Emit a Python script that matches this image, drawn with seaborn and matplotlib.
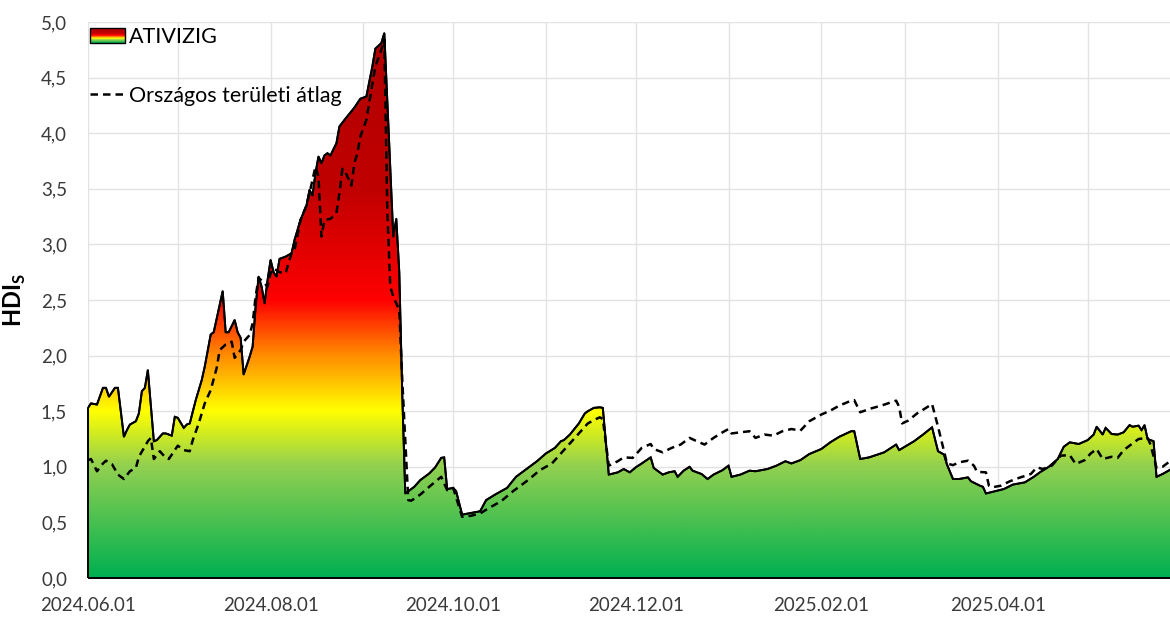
import numpy as np
import pandas as pd
import matplotlib
matplotlib.use("Agg")
import matplotlib.pyplot as plt
import matplotlib.dates as mdates
from matplotlib.colors import LinearSegmentedColormap
from matplotlib.patches import Polygon, Rectangle
from matplotlib.lines import Line2D
from matplotlib.legend_handler import HandlerBase
from matplotlib.ticker import FuncFormatter, FixedLocator
import seaborn as sns

# ---------------- data ----------------
START = "2024-06-01"
END_DAY = 361.5

ativizig_days = [0, 1, 3, 5, 6, 7, 9, 10, 12, 13, 14, 16, 17, 18, 19, 20, 22, 23, 25, 26, 28, 29, 30,
                 32, 33, 34, 36, 38, 39, 41, 42, 45, 46, 47, 49, 50, 51, 52, 54, 55, 56, 57, 58, 59,
                 60, 61, 62, 63, 64, 66, 68, 69, 71, 73, 74, 75, 76, 77, 78, 79, 80, 81, 83, 84, 86,
                 89, 91, 93, 95, 96, 98, 99, 102, 103, 104, 105, 106, 109, 111, 114, 116, 118, 119,
                 120, 122, 123, 125, 127, 131, 133, 136, 140, 143, 147, 150, 153, 156, 158, 159, 161,
                 164, 166, 167, 169, 171, 172, 174, 177, 179, 181, 183, 185, 188, 189, 192, 194, 196,
                 197, 199, 201, 202, 205, 207, 209, 212, 214, 215, 218, 221, 223, 227, 230, 233, 235,
                 238, 241, 245, 248, 251, 255, 256, 258, 261, 266, 270, 271, 276, 279, 282, 284, 286,
                 287, 289, 291, 294, 295, 298, 299, 300, 303, 306, 309, 313, 316, 318, 321, 324, 326,
                 328, 331, 334, 336, 337, 339, 340, 342, 344, 346, 348, 349, 351, 352, 353, 354, 356,
                 357, 359, 360, 362]
ativizig_values = [1.53, 1.57, 1.56, 1.71, 1.71, 1.63, 1.71, 1.71, 1.27, 1.33, 1.38, 1.41, 1.48, 1.68,
                   1.71, 1.87, 1.23, 1.24, 1.30, 1.30, 1.28, 1.45, 1.44,
                   1.35, 1.38, 1.39, 1.60, 1.78, 1.90, 2.19, 2.21, 2.58, 2.21, 2.21, 2.32, 2.21, 2.16,
                   1.83, 1.99, 2.08, 2.44, 2.71, 2.62, 2.47,
                   2.68, 2.86, 2.75, 2.71, 2.87, 2.89, 2.92, 3.04, 3.22, 3.35, 3.49, 3.44, 3.64, 3.79,
                   3.73, 3.80, 3.82, 3.80, 3.91, 4.06, 4.13,
                   4.23, 4.31, 4.33, 4.60, 4.76, 4.81, 4.90, 3.07, 3.23, 2.75, 1.65, 0.76, 0.82, 0.88,
                   0.94, 0.995, 1.08, 1.085,
                   0.80, 0.81, 0.78, 0.57, 0.58, 0.60, 0.70, 0.75, 0.81, 0.91, 0.99, 1.05, 1.12, 1.17,
                   1.23, 1.24, 1.29,
                   1.39, 1.48, 1.50, 1.53, 1.535, 1.53, 0.93, 0.95, 0.98, 0.95, 0.995, 1.03, 1.085,
                   0.99, 0.93, 0.95, 0.96,
                   0.91, 0.965, 1.00, 0.965, 0.935, 0.89, 0.93, 0.97, 1.01, 0.91, 0.93, 0.965, 0.96,
                   0.98, 1.01, 1.05, 1.03,
                   1.06, 1.115, 1.16, 1.22, 1.27, 1.32, 1.32, 1.07, 1.085, 1.13, 1.20, 1.15, 1.23,
                   1.29, 1.355, 1.14, 1.11,
                   1.02, 0.89, 0.89, 0.905, 0.87, 0.83, 0.82, 0.76, 0.78, 0.80, 0.84, 0.86, 0.91,
                   0.95, 1.00, 1.07, 1.18,
                   1.22, 1.205, 1.24, 1.29, 1.36, 1.29, 1.35, 1.295, 1.29, 1.31, 1.375, 1.36, 1.37,
                   1.33, 1.375, 1.25, 1.23,
                   0.91, 0.935, 0.95, 0.98]

national_days = [0, 1, 3, 5, 6, 8, 10, 12, 14, 16, 17, 20, 21, 22, 24, 26, 27, 29, 30, 32, 34, 35, 37,
                 39, 41, 43, 44, 46, 48, 49, 51, 52, 54, 55, 56, 57, 59, 60, 61, 62, 64, 66, 68, 69,
                 71, 73, 74, 76, 77, 78, 79, 81, 83, 84, 85, 86, 88, 89, 90, 91, 93, 94, 96, 98, 99,
                 100, 101, 102, 103, 104, 105, 107, 108, 111, 114, 118, 120, 122, 125, 128, 131, 134,
                 138, 142, 147, 151, 155, 160, 164, 167, 169, 171, 172, 174, 177, 179, 182, 185, 188,
                 189, 192, 195, 198, 201, 203, 206, 209, 212, 214, 215, 218, 221, 223, 226, 229, 232,
                 235, 238, 241, 245, 248, 251, 255, 256, 258, 261, 265, 270, 271, 272, 274, 277, 280,
                 282, 284, 286, 287, 289, 291, 294, 296, 297, 300, 301, 302, 305, 308, 311, 315, 317,
                 319, 322, 325, 328, 330, 333, 335, 337, 339, 342, 344, 346, 349, 351, 354, 355, 357,
                 359, 362]
national_values = [1.06, 1.07, 0.96, 1.03, 1.055, 1.025, 0.93, 0.89, 0.96, 0.99, 1.09, 1.23, 1.26,
                   1.07, 1.14, 1.08, 1.07, 1.15, 1.19, 1.15, 1.14, 1.24, 1.39,
                   1.57, 1.69, 1.89, 2.05, 2.10, 2.125, 1.98, 2.05, 2.125, 2.185, 2.29, 2.53, 2.70,
                   2.65, 2.62, 2.74, 2.785, 2.75, 2.74, 2.92, 2.95,
                   3.22, 3.35, 3.46, 3.70, 3.61, 3.07, 3.22, 3.23, 3.28, 3.46, 3.68, 3.65, 3.53, 3.73,
                   3.82, 3.97, 4.12, 4.28, 4.60, 4.75, 4.84,
                   3.30, 2.62, 2.53, 2.47, 2.41, 1.78, 0.70, 0.695, 0.75, 0.82, 0.91, 0.79, 0.81, 0.55,
                   0.56, 0.58, 0.63,
                   0.69, 0.78, 0.88, 0.97, 1.03, 1.18, 1.30, 1.39, 1.42, 1.445, 1.43, 1.01, 1.05,
                   1.085, 1.08, 1.17, 1.205,
                   1.16, 1.13, 1.17, 1.20, 1.26, 1.235, 1.20, 1.26, 1.31, 1.34, 1.30, 1.31, 1.32,
                   1.26, 1.29, 1.28, 1.32,
                   1.34, 1.325, 1.41, 1.47, 1.505, 1.55, 1.595, 1.60, 1.49, 1.52, 1.55, 1.595, 1.54,
                   1.39, 1.415, 1.48, 1.53,
                   1.565, 1.36, 1.14, 1.03, 1.015, 1.04, 1.055, 1.01, 0.955, 0.95, 0.83, 0.815, 0.83,
                   0.87, 0.90, 0.935, 0.995,
                   0.98, 1.01, 1.10, 1.105, 1.025, 1.06, 1.12, 1.16, 1.07, 1.09, 1.08, 1.15, 1.21,
                   1.25, 1.26, 1.20, 0.99,
                   1.00, 1.06]

series_names = ["ATIVIZIG", "Országos területi átlag"]
y_axis_label = r"$\mathbf{HDI}_{\mathbf{S}}$"
y_ticks = [0.0, 0.5, 1.0, 1.5, 2.0, 2.5, 3.0, 3.5, 4.0, 4.5, 5.0]
x_tick_labels = ["2024.06.01", "2024.08.01", "2024.10.01", "2024.12.01", "2025.02.01", "2025.04.01"]

# gradient stops (value, colour) for the area fill
grad_stops = [(0.0, "#00B050"), (1.0, "#92D050"), (1.5, "#FFFF00"), (2.0, "#FF8C00"),
              (2.5, "#FF0000"), (3.5, "#C00000"), (5.0, "#B00000")]

# ---------------- style ----------------
sns.set_theme(style="white")
plt.rcParams["font.family"] = ["Lato", "DejaVu Sans"]
plt.rcParams["mathtext.fontset"] = "custom"
plt.rcParams["mathtext.rm"] = "Lato"
plt.rcParams["mathtext.bf"] = "Lato:bold"
TXT = "#3a3a3a"
GRID = "#E3E3E3"
DASH = (0, (3, 2))

base = pd.Timestamp(START)
ati_dates = base + pd.to_timedelta(ativizig_days, unit="D")
nat_dates = base + pd.to_timedelta(national_days, unit="D")
df_a = pd.DataFrame({"date": ati_dates, "HDI": ativizig_values})
df_n = pd.DataFrame({"date": nat_dates, "HDI": national_values})

vmax = 5.0
cmap = LinearSegmentedColormap.from_list(
    "hdi", [(v / vmax, c) for v, c in grad_stops])

fig = plt.figure(figsize=(11.7, 6.17), dpi=100)
ax = fig.add_axes([88 / 1170, 39 / 617, 1082 / 1170, 556 / 617])

x0 = mdates.date2num(base)
x1 = mdates.date2num(base + pd.Timedelta(days=END_DAY))

# gradient area
xa = mdates.date2num(ati_dates)
verts = [(xa[0], 0)] + list(zip(xa, ativizig_values)) + [(xa[-1], 0)]
poly = Polygon(verts, closed=True, facecolor="none", edgecolor="black", lw=1.4, zorder=3,
               clip_on=False)
ax.add_patch(poly)
grad = np.linspace(0, vmax, 600).reshape(-1, 1)
im = ax.imshow(grad, extent=[x0, mdates.date2num(ati_dates[-1]), 0, vmax], origin="lower",
               aspect="auto", cmap=cmap, vmin=0, vmax=vmax, zorder=2, interpolation="bilinear")
im.set_clip_path(poly)

# lines
sns.lineplot(data=df_a, x="date", y="HDI", ax=ax, color="black", lw=1.4, zorder=4)
sns.lineplot(data=df_n, x="date", y="HDI", ax=ax, color="black", lw=1.8, zorder=5,
             linestyle=DASH)

ax.set_xlim(x0, x1)
ax.set_ylim(0, 5)

# axes / grid
tick_pos = mdates.date2num(pd.to_datetime(x_tick_labels, format="%Y.%m.%d"))
ax.xaxis.set_major_locator(FixedLocator(tick_pos))
ax.set_xticklabels(x_tick_labels)
ax.xaxis.set_minor_locator(mdates.MonthLocator())
ax.set_yticks(y_ticks)
ax.yaxis.set_major_formatter(FuncFormatter(lambda v, p: f"{v:.1f}".replace(".", ",")))
ax.grid(True, which="major", color=GRID, lw=1.0)
ax.grid(True, which="minor", axis="x", color=GRID, lw=1.0)
ax.set_axisbelow(True)
for s in ax.spines.values():
    s.set_visible(False)
ax.tick_params(axis="x", which="major", length=5, width=1, color="#D9D9D9", labelsize=13.5,
               labelcolor=TXT, pad=9)
ax.tick_params(axis="x", which="minor", length=0)
ax.tick_params(axis="y", length=0, labelsize=13.5, labelcolor=TXT, pad=15)
ax.set_xlabel("")
ax.set_ylabel(y_axis_label, fontsize=17, color="black", labelpad=9)


# legend with gradient patch
class GradHandler(HandlerBase):
    def create_artists(self, legend, orig_handle, xdescent, ydescent, width, height, fontsize, trans):
        arts = []
        n = 30
        for i in range(n):
            arts.append(Rectangle((-xdescent, -ydescent + height * i / n), width, height / n + 0.2,
                                  facecolor=cmap((i + 0.5) / n), edgecolor="none", transform=trans))
        arts.append(Rectangle((-xdescent, -ydescent), width, height, facecolor="none",
                              edgecolor="black", lw=1.0, transform=trans))
        return arts


grad_proxy = Rectangle((0, 0), 1, 1)
dash_proxy = Line2D([], [], color="black", lw=1.8, linestyle=DASH)
leg = ax.legend([grad_proxy, dash_proxy], series_names, handler_map={grad_proxy: GradHandler()},
                loc="upper left", bbox_to_anchor=(0.002, 0.991), frameon=False, fontsize=15.5,
                handlelength=1.6, handleheight=0.65, handletextpad=0.2, labelspacing=1.8,
                borderpad=0, borderaxespad=0)
for t in leg.get_texts():
    t.set_color("black")

fig.savefig("out.png", dpi=100)
